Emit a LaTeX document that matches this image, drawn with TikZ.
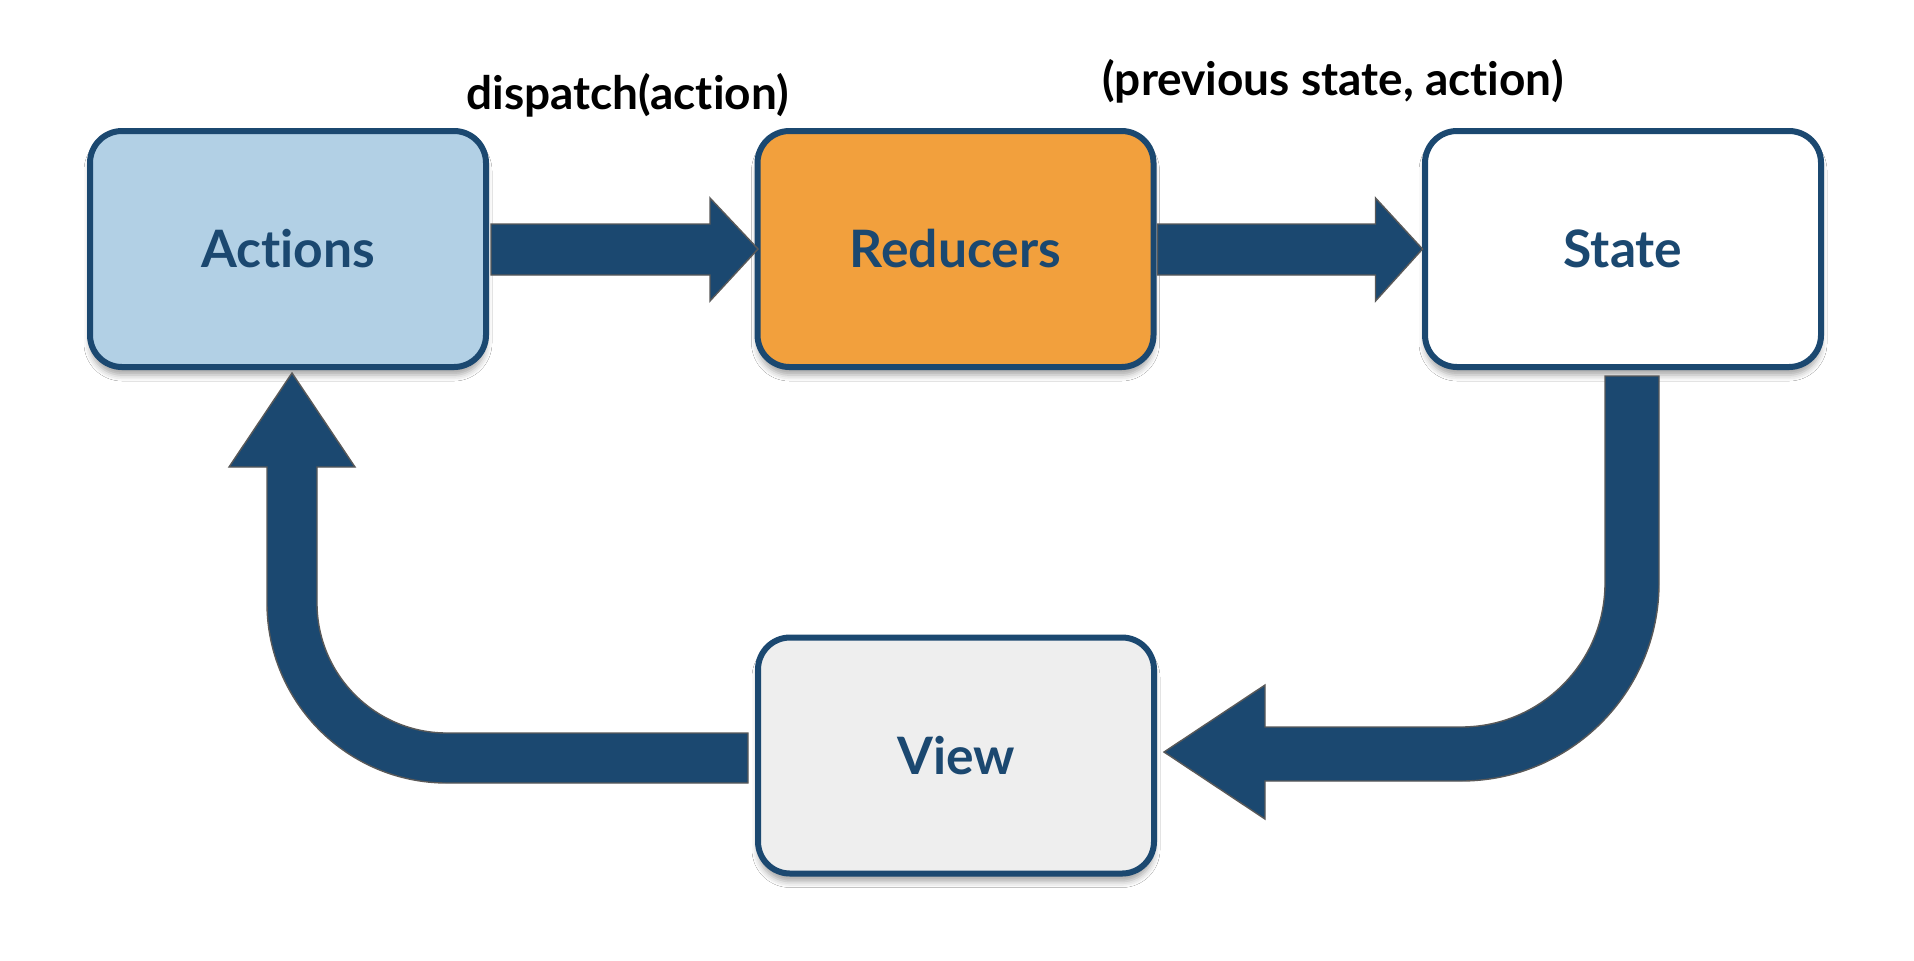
\documentclass[tikz,border=0pt]{standalone}
\usepackage{fontspec}
\setmainfont{Lato}[Ligatures=NoCommon]
\usetikzlibrary{calc,shadows.blur}
\definecolor{navy}{HTML}{1B4870}
\definecolor{actfill}{HTML}{B2D0E5}
\definecolor{redfill}{HTML}{F2A03D}
\definecolor{viewfill}{HTML}{EEEEEE}
\definecolor{edgegray}{HTML}{595959}
\begin{document}
\begin{tikzpicture}[x=0.5pt,y=-0.5pt,
  box/.style={draw=navy, line width=3pt, rounded corners=16pt,
    minimum width=198pt, minimum height=118pt, inner sep=0pt,
    font=\bfseries\fontsize{25.8}{30}\selectfont, text=navy,
    blur shadow={shadow xshift=0pt, shadow yshift=-4pt, shadow opacity=35, shadow blur radius=3pt}},
  barrow/.style={fill=navy, draw=edgegray, line width=0.7pt, line join=miter},
  lbl/.style={font=\bfseries\fontsize{23}{27}\selectfont, text=black, anchor=base, inner sep=0pt}]
\useasboundingbox[fill=white] (0,0) rectangle (1914,960);

\node[box, fill=actfill] (act) at (288,249) {Actions};
\node[box, fill=redfill] (red) at (955.5,249) {Reducers};
\node[box, fill=white] (st) at (1623,249) {State};
\node[box, fill=viewfill] (vw) at (956,755.5) {View};

\node[lbl] (l1) at (627.5,109) {dispatch(action)};
\node[lbl] (l2) at (1333,95) {(previous state, action)};

% Actions -> Reducers
\draw[barrow] ($(act.east)+(2,-25)$) -- ++(219,0) -- ++(0,-26) -- ++(48,51)
  -- ++(-48,52) -- ++(0,-26) -- ++(-219,0) -- cycle;
% Reducers -> State
\draw[barrow] ($(red.east)+(1,-25)$) -- ++(218,0) -- ++(0,-26) -- ++(47,51)
  -- ++(-47,52) -- ++(0,-26) -- ++(-218,0) -- cycle;
% State -> View
\draw[barrow] ($(st.south)+(-18,6)$) -- ++(0,207)
  .. controls +(0,79.5) and +(79.5,0) .. ++(-144,144)
  -- ++(-196,0) -- ++(0,-42) -- ++(-101,67) -- ++(101,67) -- ++(0,-38)
  -- ++(196,0)
  .. controls +(109.4,0) and +(0,109.4) .. ++(198,-198)
  -- ++(0,-207) -- cycle;
% View -> Actions
\draw[barrow] ($(vw.west)+(-7,-22.5)$) -- ++(-301,0)
  .. controls +(-71.8,0) and +(0,71.8) .. ++(-130,-130)
  -- ++(0,-136) -- ++(38,0) -- ++(-63,-94) -- ++(-63,94) -- ++(38,0)
  -- ++(0,136)
  .. controls +(0,99.4) and +(-99.4,0) .. ++(180,180)
  -- ++(301,0) -- cycle;
\end{tikzpicture}
\end{document}
